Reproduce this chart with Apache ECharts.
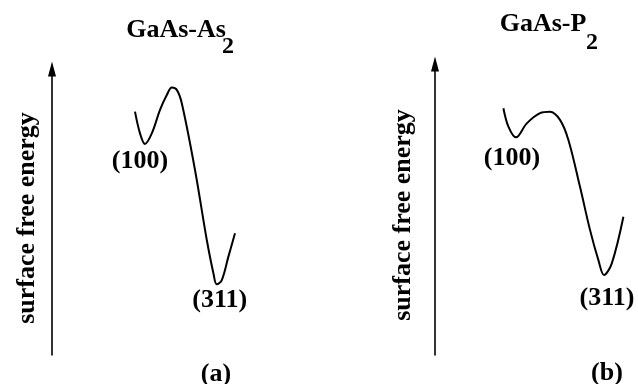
<!DOCTYPE html>
<html>
<head>
<meta charset="utf-8">
<script src="https://cdn.jsdelivr.net/npm/echarts@6/dist/echarts.min.js"></script>
<style>html,body{margin:0;padding:0;background:#fff}#c{width:638px;height:384px}</style>
</head>
<body>
<div id="c"></div>
<script>
// Panel (a): GaAs-As2, arbitrary units (x: orientation coordinate, y: surface free energy)
const curveA_x = [41.5, 44, 46.5, 49.9, 54, 57.4, 59.9, 62.4, 64.9, 71.5, 77.4, 80.7, 82.4, 84.9, 88.2, 91.5];
const curveA_y = [85.1, 77.5, 73.8, 77.5, 85.7, 90.9, 93.5, 92.7, 88.0, 64.7, 40.2, 28.6, 24.7, 26.2, 34.4, 42.6];
// Panel (b): GaAs-P2
const curveB_x = [34.2, 36.7, 40.5, 45.9, 52.5, 57.5, 62.5, 66.7, 72.5, 77.5, 81.7, 84.5, 88.4, 94.2];
const curveB_y = [84.8, 78.5, 74.8, 79.6, 83.1, 83.6, 80.8, 73.9, 57.8, 43.0, 32.6, 27.5, 31.5, 47.5];
// labelled minima: [index in curve, label]
const minimaA = [[2, '(100)'], [12, '(311)']];
const minimaB = [[2, '(100)'], [11, '(311)']];
const titles = ['GaAs-As', 'GaAs-P'];
const subscripts = ['2', '2'];
const panelLabels = ['(a)', '(b)'];
const yName = 'surface free energy';

const FONT = '"Liberation Serif", "Times New Roman", serif';
const chart = echarts.init(document.getElementById('c'), null, {renderer: 'canvas'});

function buildData(xs, ys, minima, offs) {
  return xs.map((x, i) => {
    const m = minima.findIndex(d => d[0] === i);
    if (m < 0) return [x, ys[i]];
    return {
      value: [x, ys[i]],
      label: {
        show: true, formatter: minima[m][1], position: 'bottom',
        distance: offs[m][1], offset: [offs[m][0], 0],
        color: '#000', fontFamily: FONT, fontWeight: 'bold', fontSize: 26
      }
    };
  });
}

function yAxis(gridIndex, gap, shift) {
  return {
    type: 'value', gridIndex, min: 0, max: 100,
    name: yName, nameLocation: 'middle', nameRotate: 90, nameGap: gap,
    nameTextStyle: {color: '#000', fontFamily: FONT, fontWeight: 'bold', fontSize: 26, padding: [0, shift, 0, 0]},
    axisLine: {show: true, lineStyle: {color: '#000', width: 1.6}, symbol: ['none', 'triangle'], symbolSize: [8, 15]},
    axisTick: {show: false}, axisLabel: {show: false}, splitLine: {show: false}
  };
}

const lineSeries = (idx, data) => ({
  type: 'line', xAxisIndex: idx, yAxisIndex: idx, data,
  smooth: 0.35, symbol: 'circle', symbolSize: 0, showSymbol: true, showAllSymbol: true,
  lineStyle: {color: '#000', width: 2}, itemStyle: {color: '#000'},
  silent: true, animation: false, z: 3
});

chart.setOption({
  animation: false,
  backgroundColor: '#fff',
  grid: [
    {left: 52, top: 69, width: 200, height: 286},
    {left: 435, top: 64, width: 200, height: 291}
  ],
  xAxis: [
    {type: 'value', gridIndex: 0, min: 0, max: 100, show: false},
    {type: 'value', gridIndex: 1, min: 0, max: 100, show: false}
  ],
  yAxis: [yAxis(0, 12, 12), yAxis(1, 19, 11)],
  series: [
    lineSeries(0, buildData(curveA_x, curveA_y, minimaA, [[-5, 4], [3, 3]])),
    lineSeries(1, buildData(curveB_x, curveB_y, minimaB, [[-4, 8], [3, 10]]))
  ],
  graphic: [
    {type: 'text', x: 176, y: 30, style: {text: titles[0], font: 'bold 26px ' + FONT, fill: '#000', textAlign: 'center', textVerticalAlign: 'middle'}},
    {type: 'text', x: 228, y: 47, style: {text: subscripts[0], font: 'bold 24px ' + FONT, fill: '#000', textAlign: 'center', textVerticalAlign: 'middle'}},
    {type: 'text', x: 543, y: 24, style: {text: titles[1], font: 'bold 26px ' + FONT, fill: '#000', textAlign: 'center', textVerticalAlign: 'middle'}},
    {type: 'text', x: 592, y: 43, style: {text: subscripts[1], font: 'bold 24px ' + FONT, fill: '#000', textAlign: 'center', textVerticalAlign: 'middle'}},
    {type: 'text', x: 216, y: 374, style: {text: panelLabels[0], font: 'bold 26px ' + FONT, fill: '#000', textAlign: 'center', textVerticalAlign: 'middle'}},
    {type: 'text', x: 607, y: 373, style: {text: panelLabels[1], font: 'bold 26px ' + FONT, fill: '#000', textAlign: 'center', textVerticalAlign: 'middle'}}
  ]
});
</script>
</body>
</html>
